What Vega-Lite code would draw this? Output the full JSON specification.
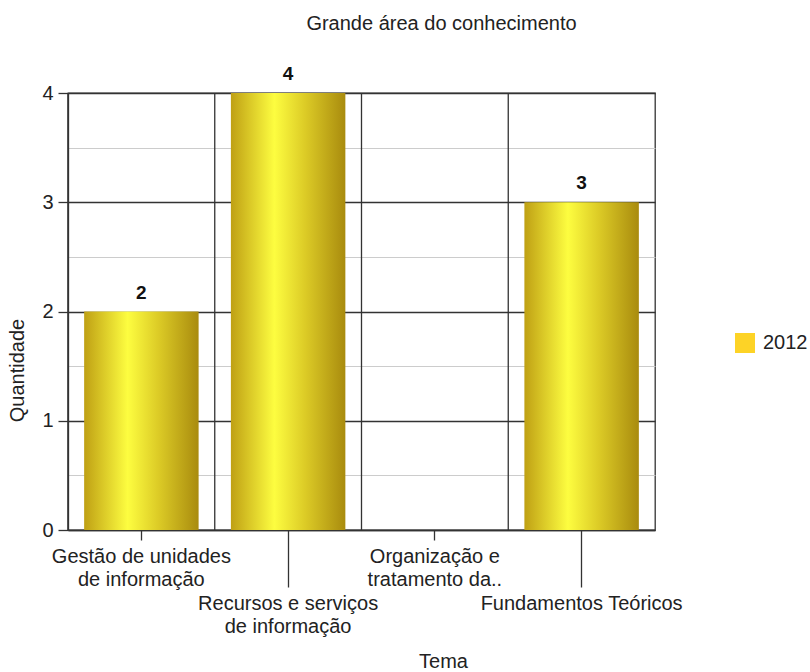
{
  "$schema": "https://vega.github.io/schema/vega-lite/v6.json",
  "autosize": {"type": "none"},
  "width": 587,
  "height": 437,
  "padding": {"left": 68, "top": 93, "right": 155, "bottom": 142},
  "background": "white",
  "config": {
    "font": "Liberation Sans",
    "view": {"stroke": "#333333", "strokeWidth": 1.3},
    "axis": {"labelFont": "Liberation Sans", "titleFont": "Liberation Sans", "labelColor": "#222222", "titleColor": "#222222", "labelFontSize": 20, "titleFontSize": 20, "titleFontWeight": "normal"}
  },
  "title": {
    "text": "Grande área do conhecimento",
    "font": "Liberation Sans",
    "fontSize": 20,
    "fontWeight": "normal",
    "color": "#222222",
    "anchor": "middle",
    "frame": "group",
    "dx": 80,
    "offset": 31
  },
  "data": {
    "values": [
      {"tema": "Gestão de unidades de informação", "qtd": 2, "ano": "2012"},
      {"tema": "Recursos e serviços de informação", "qtd": 4, "ano": "2012"},
      {"tema": "Organização e tratamento da..", "qtd": 0, "ano": "2012"},
      {"tema": "Fundamentos Teóricos", "qtd": 3, "ano": "2012"}
    ]
  },
  "layer": [
    {
      "mark": {"type": "rule", "color": "#333333", "strokeWidth": 1.3},
      "encoding": {
        "x": {"field": "tema", "type": "nominal", "sort": null, "bandPosition": 0}
      }
    },
    {
      "mark": {
        "type": "bar",
        "width": {"band": 0.78},
        "color": {
          "gradient": "linear",
          "x1": 0, "x2": 1, "y1": 0, "y2": 0,
          "stops": [
            {"offset": 0, "color": "#bfa014"},
            {"offset": 0.38, "color": "#fdfd40"},
            {"offset": 0.65, "color": "#dccb26"},
            {"offset": 1, "color": "#a98b0e"}
          ]
        }
      },
      "encoding": {
        "x": {
          "field": "tema",
          "type": "nominal",
          "sort": null,
          "scale": {"paddingInner": 0, "paddingOuter": 0},
          "axis": {
            "title": "Tema",
            "titleX": 375,
            "titleY": 137,
            "titleBaseline": "alphabetic",
            "titleAlign": "center",
            "titleAnchor": null,
            "grid": false,
            "labelAngle": 0,
            "labelAlign": "center",
            "labelBaseline": "top",
            "labelLineHeight": 23,
            "labelOverlap": false,
            "labelBound": false,
            "labelFlush": false,
            "labelLimit": 0,
            "domainColor": "#333333",
            "domainWidth": 1.3,
            "tickColor": "#333333",
            "tickWidth": 1.3,
            "tickSize": {"condition": {"test": "datum.value == 'Recursos e serviços de informação' || datum.value == 'Fundamentos Teóricos'", "value": 57}, "value": 10},
            "labelPadding": 6,
            "labelExpr": "datum.label == 'Gestão de unidades de informação' ? ['Gestão de unidades', 'de informação'] : datum.label == 'Recursos e serviços de informação' ? ['Recursos e serviços', 'de informação'] : datum.label == 'Organização e tratamento da..' ? ['Organização e', 'tratamento da..'] : datum.label"
          }
        },
        "y": {
          "field": "qtd",
          "type": "quantitative",
          "scale": {"domain": [0, 4], "nice": false},
          "axis": {
            "title": "Quantidade",
            "titleX": -51,
            "titleY": 277,
            "titleAngle": -90,
            "titleBaseline": "middle",
            "titleAlign": "center",
            "titleAnchor": null,
            "values": [0, 0.5, 1, 1.5, 2, 2.5, 3, 3.5, 4],
            "labelExpr": "datum.value % 1 == 0 ? format(datum.value, 'd') : ''",
            "labelPadding": 5,
            "tickSize": 10,
            "tickColor": "#333333",
            "tickWidth": 1.3,
            "tickOpacity": {"condition": {"test": "datum.value % 1 == 0", "value": 1}, "value": 0},
            "domainColor": "#333333",
            "domainWidth": 1.3,
            "grid": true,
            "gridColor": {"condition": {"test": "datum.value % 1 == 0", "value": "#333333"}, "value": "#cccccc"},
            "gridWidth": {"condition": {"test": "datum.value % 1 == 0", "value": 1.3}, "value": 1.2},
            "gridOpacity": 1
          }
        }
      }
    },
    {
      "mark": {"type": "bar", "width": {"band": 0.78}, "opacity": 0},
      "encoding": {
        "x": {"field": "tema", "type": "nominal", "sort": null},
        "y": {"field": "qtd", "type": "quantitative"},
        "color": {
          "field": "ano",
          "type": "nominal",
          "scale": {"range": ["#fdd326"]},
          "legend": {
            "title": null,
            "orient": "none",
            "legendX": 667,
            "legendY": 240,
            "padding": 0,
            "symbolType": "square",
            "symbolSize": 400,
            "symbolOpacity": 1,
            "symbolStrokeWidth": 0,
            "labelFont": "Liberation Sans",
            "labelFontSize": 20,
            "labelColor": "#222222",
            "labelOffset": 8
          }
        }
      }
    },
    {
      "transform": [{"filter": "datum.qtd > 0"}],
      "mark": {"type": "text", "baseline": "alphabetic", "dy": -13, "fontSize": 19, "fontWeight": "bold", "font": "Liberation Sans", "color": "#111111"},
      "encoding": {
        "x": {"field": "tema", "type": "nominal", "sort": null},
        "y": {"field": "qtd", "type": "quantitative"},
        "text": {"field": "qtd", "type": "quantitative"}
      }
    }
  ]
}
